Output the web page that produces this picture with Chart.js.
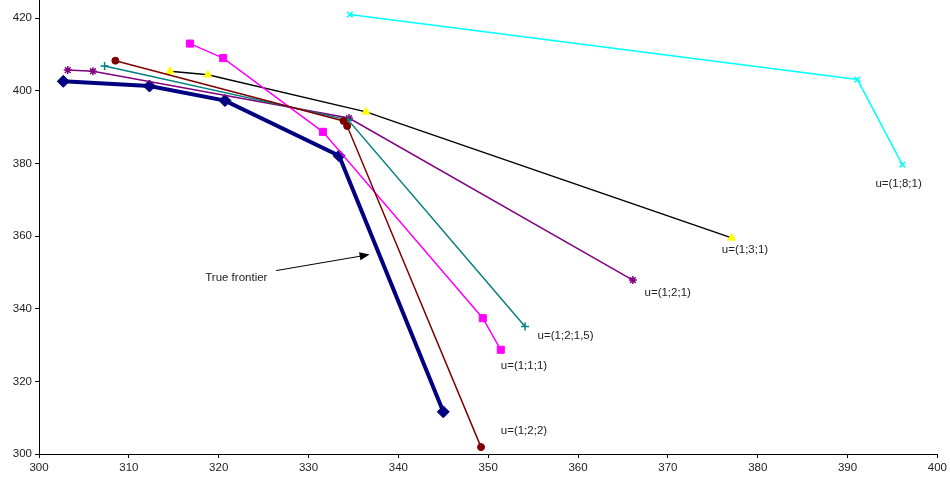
<!DOCTYPE html>
<html>
<head>
<meta charset="utf-8">
<script src="https://cdn.jsdelivr.net/npm/chart.js@4"></script>
<style>
  html, body { margin: 0; padding: 0; background: #fff; }
  #wrap { width: 950px; height: 483px; }
</style>
</head>
<body>
<div id="wrap"><canvas id="chart"></canvas></div>
<script>
// series values
const frontierX = [302.7, 312.3, 320.7, 333.4, 345.0];
const frontierY = [402.6, 401.3, 397.3, 382.1, 311.6];

const u122X = [308.5, 333.9, 334.3, 349.2];
const u122Y = [408.3, 391.7, 390.3, 301.9];

const u111X = [316.8, 320.5, 331.6, 349.4, 351.4];
const u111Y = [413.0, 409.0, 388.7, 337.4, 328.7];

const u1215X = [307.3, 334.4, 354.1];
const u1215Y = [406.8, 392.0, 335.1];

const u121X = [303.2, 306.0, 334.5, 366.1];
const u121Y = [405.7, 405.4, 392.5, 347.9];

const u131X = [314.6, 318.8, 336.4, 377.1];
const u131Y = [405.4, 404.4, 394.2, 359.5];

const u181X = [334.6, 391.1, 396.1];
const u181Y = [421.0, 403.1, 379.7];

// text labels: text, x, y (left edge, middle)
const labelText = ['u=(1;8;1)', 'u=(1;3;1)', 'u=(1;2;1)', 'u=(1;2;1,5)', 'u=(1;1;1)', 'u=(1;2;2)', 'True frontier'];
const labelX = [393.1, 376.0, 367.4, 355.5, 351.4, 351.4, 318.5];
const labelY = [374.4, 356.2, 344.3, 332.4, 324.3, 306.5, 348.6];

// arrow from label to frontier
const arrowX = [326.4, 336.8];
const arrowY = [350.5, 354.9];

const xTicks = [300, 310, 320, 330, 340, 350, 360, 370, 380, 390, 400];
const yTicks = [300, 320, 340, 360, 380, 400, 420];

function pts(xs, ys) {
  return xs.map((x, i) => ({ x: x, y: ys[i] }));
}

function series(xs, ys, color, style, radius, fill, width, order, pw) {
  return {
    data: pts(xs, ys),
    showLine: true,
    borderColor: color,
    borderWidth: width,
    pointStyle: style,
    pointRadius: radius,
    pointBackgroundColor: fill,
    pointBorderColor: fill,
    pointBorderWidth: pw || 1,
    order: order,
  };
}

const labelPlugin = {
  id: 'labels',
  afterDatasetsDraw(chart) {
    const ctx = chart.ctx;
    const xs = chart.scales.x;
    const ys = chart.scales.y;
    ctx.save();
    ctx.font = '11.5px "Liberation Sans", Arial, sans-serif';
    ctx.fillStyle = '#222';
    ctx.textBaseline = 'middle';
    ctx.textAlign = 'left';
    for (let i = 0; i < labelText.length; i++) {
      ctx.fillText(labelText[i], xs.getPixelForValue(labelX[i]), ys.getPixelForValue(labelY[i]));
    }
    // arrow
    const x1 = xs.getPixelForValue(arrowX[0]);
    const y1 = ys.getPixelForValue(arrowY[0]);
    const x2 = xs.getPixelForValue(arrowX[1]);
    const y2 = ys.getPixelForValue(arrowY[1]);
    const a = Math.atan2(y2 - y1, x2 - x1);
    ctx.strokeStyle = '#000';
    ctx.fillStyle = '#000';
    ctx.lineWidth = 1;
    ctx.beginPath();
    ctx.moveTo(x1, y1);
    ctx.lineTo(x2 - 8 * Math.cos(a), y2 - 8 * Math.sin(a));
    ctx.stroke();
    ctx.beginPath();
    ctx.moveTo(x2, y2);
    ctx.lineTo(x2 - 10 * Math.cos(a) + 4 * Math.sin(a), y2 - 10 * Math.sin(a) - 4 * Math.cos(a));
    ctx.lineTo(x2 - 10 * Math.cos(a) - 4 * Math.sin(a), y2 - 10 * Math.sin(a) + 4 * Math.cos(a));
    ctx.closePath();
    ctx.fill();
    ctx.restore();
  },
};

const tickFont = { family: '"Liberation Sans", Arial, sans-serif', size: 11.5 };

new Chart(document.getElementById('chart'), {
  type: 'scatter',
  data: {
    datasets: [
      series(frontierX, frontierY, '#000080', 'rectRot', 6, '#000080', 4, 10),
      series(u122X, u122Y, '#800000', 'circle', 3.5, '#800000', 1.5, 1),
      series(u111X, u111Y, '#FF00FF', 'rect', 5, '#FF00FF', 1.5, 1),
      series(u1215X, u1215Y, '#008080', 'cross', 4, '#008080', 1.5, 1, 1.5),
      series(u121X, u121Y, '#800080', 'star', 4, '#800080', 1.5, 1, 1.5),
      series(u131X, u131Y, '#000000', 'triangle', 4.5, '#FFFF00', 1.5, 1),
      series(u181X, u181Y, '#00FFFF', 'crossRot', 4, '#00FFFF', 1.5, 1, 1.5),
    ],
  },
  options: {
    responsive: true,
    maintainAspectRatio: false,
    animation: false,
    layout: { autoPadding: false, padding: { top: 0, right: 12, left: 0, bottom: 0 } },
    plugins: {
      legend: { display: false },
      tooltip: { enabled: false },
    },
    scales: {
      x: {
        type: 'linear',
        min: 300,
        max: 400,
        afterBuildTicks: (scale) => {
          scale.ticks = xTicks.map((v) => ({ value: v }));
        },
        afterFit: (scale) => {
          scale.height = 29;
        },
        grid: { drawOnChartArea: false, tickLength: 4, color: '#000' },
        border: { color: '#000', width: 1 },
        ticks: { color: '#222', font: tickFont, padding: 3, maxRotation: 0 },
      },
      y: {
        type: 'linear',
        min: 300,
        max: 425,
        afterBuildTicks: (scale) => {
          scale.ticks = yTicks.map((v) => ({ value: v }));
        },
        afterFit: (scale) => {
          scale.width = 39;
          scale.paddingTop = 0;
          scale.paddingBottom = 0;
        },
        grid: { drawOnChartArea: false, tickLength: 4, color: '#000' },
        border: { color: '#000', width: 1 },
        ticks: { color: '#222', font: tickFont, padding: 3 },
      },
    },
  },
  plugins: [labelPlugin],
});
</script>
</body>
</html>
